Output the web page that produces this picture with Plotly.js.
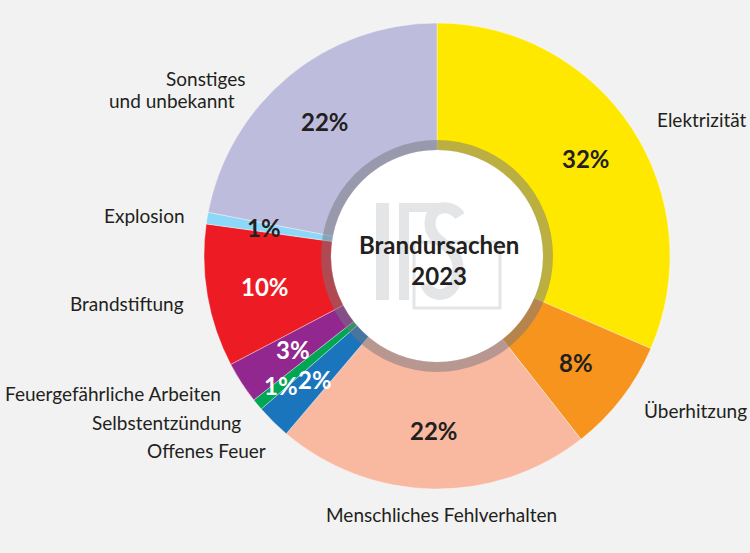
<!DOCTYPE html>
<html><head><meta charset="utf-8">
<script src="https://cdn.plot.ly/plotly-3.0.1.min.js"></script>
<style>html,body{margin:0;padding:0;background:#f2f2f2;overflow:hidden}</style>
</head><body><div id="chart" style="width:750px;height:553px"></div>
<script>
// ---- data ----
const causes = ['Elektrizität','Überhitzung','Menschliches Fehlverhalten','Offenes Feuer','Selbstentzündung','Feuergefährliche Arbeiten','Brandstiftung','Explosion','Sonstiges und unbekannt'];
const shares = [31.5, 7.9, 21.8, 2.4, 0.8, 2.9, 9.9, 0.8, 22.0];
const shareLabels = ['32%','8%','22%','2%','1%','3%','10%','1%','22%'];
const centerTitle = ['Brandursachen', '2023'];

// ---- style ----
const sliceColors = ['#ffe800','#f7941d','#f9b8a0','#1b75bc','#00a651','#92278f','#ed1c24','#8dd8f8','#bdbcdc'];
const labelColors = ['#231f20','#231f20','#231f20','#ffffff','#ffffff','#ffffff','#ffffff','#231f20','#231f20'];
const labelRadius = [178,175,175,174,203,172,175,175,175];
const FONT = 'Lato';
const TXT = '#231f20';
const W = 750, H = 553, CX = 437, CY = 256, R = 233, HOLE = 106;
const px = x => x / W;
const py = y => 1 - y / H;

// outside category labels: [text, x, y, anchor]
const outside = [
  ['Elektrizität', 655, 119, 'left'],
  ['Überhitzung', 642, 410, 'left'],
  ['Menschliches Fehlverhalten', 441, 514, 'center'],
  ['Offenes Feuer', 268, 450, 'right'],
  ['Selbstentzündung', 243, 422, 'right'],
  ['Feuergefährliche Arbeiten', 223, 393, 'right'],
  ['Brandstiftung', 186, 303, 'right'],
  ['Explosion', 187, 215, 'right'],
  ['Sonstiges', 248, 79, 'right'],
  ['und unbekannt', 237, 101, 'right']
];

const annotations = [];
outside.forEach(o => annotations.push({
  text: o[0], x: px(o[1]), y: py(o[2]), xref: 'paper', yref: 'paper',
  xanchor: o[3], yanchor: 'middle', showarrow: false,
  font: {family: FONT, size: 19, color: TXT}
}));

// percentage labels at slice mid-angles
const total = shares.reduce((a, b) => a + b, 0);
let cum = 0;
shares.forEach((v, i) => {
  const mid = (cum + v / 2) / total * 2 * Math.PI;
  cum += v;
  const r = labelRadius[i];
  annotations.push({
    text: shareLabels[i], x: px(CX + r * Math.sin(mid)), y: py(CY - r * Math.cos(mid)),
    xref: 'paper', yref: 'paper', xanchor: 'center', yanchor: 'middle', showarrow: false,
    font: {family: FONT, size: 24, weight: 'bold', color: labelColors[i]}
  });
});

annotations.push({
  text: centerTitle[0] + '<br>' + centerTitle[1], x: px(CX + 2), y: py(CY + 4),
  xref: 'paper', yref: 'paper', xanchor: 'center', yanchor: 'middle', showarrow: false,
  font: {family: FONT, size: 24, weight: 'bold', color: TXT}
});

const WM = '#e4e5e7';
function rectPx(x0, y0, x1, y1, opts) {
  return Object.assign({type: 'rect', xref: 'paper', yref: 'paper', x0: px(x0), x1: px(x1), y0: py(y1), y1: py(y0), layer: 'below'}, opts);
}
function pathPx(d) {
  return d.replace(/(-?\d+(\.\d+)?),(-?\d+(\.\d+)?)/g, (m, a, b, c, e) => px(+a).toFixed(5) + ',' + py(+c).toFixed(5));
}

const shapes = [
  {type: 'circle', xref: 'paper', yref: 'paper', x0: px(CX - HOLE), x1: px(CX + HOLE), y0: py(CY + HOLE), y1: py(CY - HOLE), fillcolor: '#ffffff', line: {width: 0}, layer: 'below'},
  rectPx(376, 203, 389, 300, {fillcolor: WM, line: {width: 0}}),
  rectPx(399, 203, 409, 300, {fillcolor: WM, line: {width: 0}}),
  rectPx(399, 203, 440, 212, {fillcolor: WM, line: {width: 0}}),
  rectPx(414, 242, 500, 308, {fillcolor: 'rgba(0,0,0,0)', line: {width: 3, color: WM}}),
  {type: 'path', xref: 'paper', yref: 'paper', layer: 'below', line: {width: 11, color: WM},
   path: pathPx('M 460,216 C 452,204 430,204 430,224 C 430,244 458,244 458,268 C 458,300 430,300 426,284')},
  {type: 'circle', xref: 'paper', yref: 'paper', x0: px(CX - 111), x1: px(CX + 111), y0: py(CY + 111), y1: py(CY - 111), fillcolor: 'rgba(0,0,0,0)', line: {width: 10, color: 'rgba(118,118,128,0.5)'}, layer: 'above'}
];

const trace = {
  type: 'pie', labels: causes, values: shares, sort: false, direction: 'clockwise', rotation: 0,
  hole: HOLE / R, textinfo: 'none', hoverinfo: 'label+percent',
  marker: {colors: sliceColors, line: {width: 0.6, color: 'rgba(255,255,255,0.6)'}},
  domain: {x: [px(CX - R), px(CX + R)], y: [py(CY + R), py(CY - R)]},
  showlegend: false
};

Plotly.newPlot('chart', [trace], {
  width: W, height: H, margin: {l: 0, r: 0, t: 0, b: 0},
  paper_bgcolor: '#f2f2f2', plot_bgcolor: '#f2f2f2', showlegend: false,
  annotations: annotations, shapes: shapes
}, {displayModeBar: false, staticPlot: true});
</script></body></html>
